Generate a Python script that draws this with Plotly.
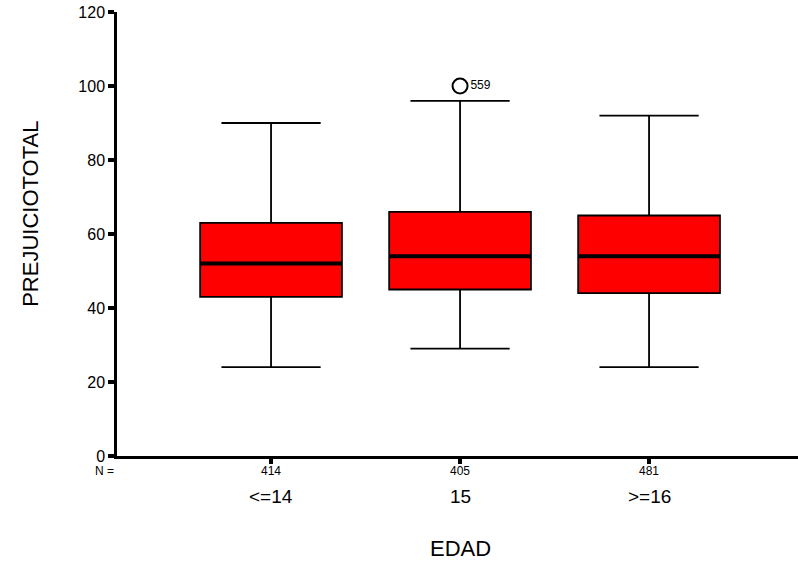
import plotly.graph_objects as go

categories = ["<=14", "15", ">=16"]
n_counts = [414, 405, 481]
lower_whisker = [24, 29, 24]
q1 = [43, 45, 44]
median = [52, 54, 54]
q3 = [63, 66, 65]
upper_whisker = [90, 96, 92]
outlier_group = ["15"]
outlier_value = [100]
outlier_label = ["559"]
y_ticks = [0, 20, 40, 60, 80, 100, 120]

positions = [i + 1 for i in range(len(categories))]
pos_of = dict(zip(categories, positions))
BOX_W = 0.75
FONT = "Arial, Liberation Sans, sans-serif"

fig = go.Figure()
for i, c in enumerate(categories):
    fig.add_trace(go.Box(
        x=[positions[i]],
        q1=[q1[i]], median=[median[i]], q3=[q3[i]],
        lowerfence=[lower_whisker[i]], upperfence=[upper_whisker[i]],
        width=BOX_W, whiskerwidth=0.7,
        fillcolor="#FF0000",
        line=dict(color="black", width=1.8),
        boxpoints=False, showlegend=False, hoverinfo="skip",
    ))

# thick median lines
mx, my = [], []
for i in range(len(categories)):
    mx += [positions[i] - BOX_W / 2, positions[i] + BOX_W / 2, None]
    my += [median[i], median[i], None]
fig.add_trace(go.Scatter(x=mx, y=my, mode="lines",
                         line=dict(color="black", width=4),
                         showlegend=False, hoverinfo="skip"))

# outliers
fig.add_trace(go.Scatter(
    x=[pos_of[g] for g in outlier_group], y=outlier_value,
    mode="markers+text", text=outlier_label, textposition="middle right",
    textfont=dict(family=FONT, size=12, color="black"),
    marker=dict(symbol="circle-open", size=15, color="black", line=dict(width=2)),
    showlegend=False, hoverinfo="skip", cliponaxis=False,
))

annotations = []
for i, c in enumerate(categories):
    annotations.append(dict(x=positions[i], y=0, xref="x", yref="paper",
                            text=str(n_counts[i]), showarrow=False,
                            yanchor="top", yshift=-6,
                            font=dict(family=FONT, size=12, color="black")))
    annotations.append(dict(x=positions[i], y=0, xref="x", yref="paper",
                            text=c, showarrow=False, yanchor="top", yshift=-28,
                            font=dict(family=FONT, size=19, color="black")))
annotations.append(dict(x=-0.035, y=0, xref="paper", yref="paper", text="N =",
                        showarrow=False, yanchor="top", yshift=-6,
                        font=dict(family=FONT, size=12, color="black")))
annotations.append(dict(x=2, y=0, xref="x", yref="paper", text="EDAD",
                        showarrow=False, yanchor="top", yshift=-78,
                        font=dict(family=FONT, size=22, color="black")))
annotations.append(dict(x=-0.128, y=0.545, xref="paper", yref="paper",
                        xanchor="center", yanchor="middle",
                        text="PREJUICIOTOTAL", textangle=-90, showarrow=False,
                        font=dict(family=FONT, size=22, color="black")))

fig.update_layout(
    width=798, height=565,
    margin=dict(l=117, r=0, t=12, b=109),
    plot_bgcolor="white", paper_bgcolor="white",
    annotations=annotations,
    font=dict(family=FONT, color="black"),
)
fig.update_xaxes(range=[0.185, 3.788], showgrid=False, zeroline=False,
                 showline=True, linecolor="black", linewidth=2.5, mirror=False,
                 tickvals=positions, ticktext=["" for _ in positions],
                 ticks="outside", ticklen=5, tickwidth=4, tickcolor="black")
fig.update_yaxes(range=[0, 120], showgrid=False, zeroline=False,
                 showline=True, linecolor="black", linewidth=2.5,
                 tickvals=y_ticks, ticks="outside", ticklen=6, tickwidth=4,
                 tickcolor="black", tickfont=dict(family=FONT, size=16, color="black"))

fig.write_html("out.html", config={"displayModeBar": False},
               post_script="document.body.style.margin='0';document.body.style.overflow='hidden';")
